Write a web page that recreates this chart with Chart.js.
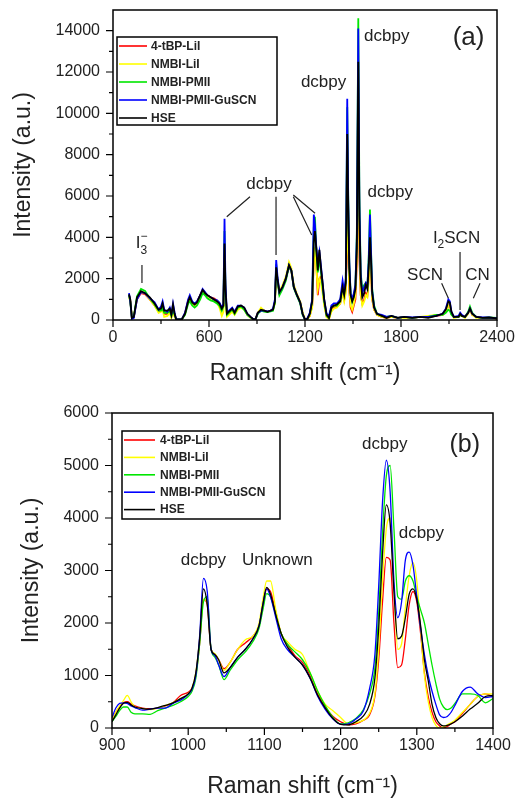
<!DOCTYPE html>
<html>
<head>
<meta charset="utf-8">
<script src="https://cdn.jsdelivr.net/npm/chart.js@4.4.1/dist/chart.umd.min.js"></script>
<style>
html, body { margin: 0; padding: 0; background: #fff; }
.panel { position: absolute; left: 0; width: 515px; }
#boxA { top: 0; height: 395px; }
#boxB { top: 400px; height: 398px; }
</style>
</head>
<body>
<div class="panel" id="boxA"><canvas id="chartA" width="515" height="395"></canvas></div>
<div class="panel" id="boxB"><canvas id="chartB" width="515" height="398"></canvas></div>
<script>
const seriesNames = ['4-tBP-LiI', 'NMBI-LiI', 'NMBI-PMII', 'NMBI-PMII-GuSCN', 'HSE'];
const seriesColors = ['#ff0000', '#ffff00', '#00e600', '#0000ff', '#000000'];

// panel (a): full spectrum
const shiftA = [
  100,108,118,130,150,175,200,230,260,285,
  300,310,320,340,355,365,375,385,395,430,
  450,470,480,495,510,525,545,560,575,590,
  610,630,650,665,680,690,697,703,712,725,
  745,760,780,800,820,840,860,875,890,905,
  925,945,965,985,1000,1012,1020,1028,1040,1060,
  1080,1100,1115,1130,1150,1170,1185,1200,1215,1230,
  1245,1255,1262,1270,1280,1290,1300,1310,1320,1335,
  1350,1365,1380,1400,1420,1435,1445,1455,1464,1470,
  1477,1485,1495,1505,1515,1524,1533,1540,1548,1558,
  1570,1580,1590,1598,1606,1613,1620,1632,1650,1680,
  1710,1740,1780,1820,1870,1920,1970,2020,2060,2080,
  2096,2105,2115,2130,2160,2170,2180,2200,2220,2231,
  2245,2270,2310,2350,2400
];
const tbpLiA = [
  1200,950,100,150,1000,1300,1250,1000,700,400,
  450,600,300,300,450,150,550,200,20,30,
  300,950,1100,850,750,850,1200,1450,1300,1200,
  1100,1050,950,800,500,650,3200,1300,250,350,
  500,300,600,650,550,250,120,50,20,350,
  450,450,400,450,500,850,2500,1900,1300,1600,
  2000,2600,2350,1600,1200,850,300,30,40,200,
  700,3000,3300,2800,1200,2000,2100,1500,800,150,
  50,500,600,650,800,1400,1000,1500,5000,3200,
  1400,600,400,700,1000,2800,8200,3000,1200,800,
  1000,1300,1200,2000,3000,2200,1000,500,250,150,
  100,150,100,150,100,150,150,200,250,400,
  700,700,300,150,150,250,200,150,350,500,
  250,150,100,100,80
];
const nmbiLiA = [
  1100,900,100,150,1050,1350,1300,1000,700,350,
  400,500,150,200,350,100,400,150,20,30,
  300,900,1050,800,700,800,1150,1400,1250,1150,
  1050,950,850,600,200,400,2200,800,150,250,
  400,250,500,600,500,250,100,50,20,350,
  600,450,400,450,500,800,2300,1800,1400,1700,
  2100,2800,2500,1700,1250,900,400,50,30,200,
  600,2800,3500,2600,1500,2000,1800,1300,700,150,
  50,400,550,600,800,1300,900,1300,6000,3500,
  1500,700,500,800,1200,3000,9200,3500,1300,700,
  900,1200,1100,1900,3300,2200,1000,500,250,150,
  100,150,100,100,100,150,200,250,250,400,
  700,650,300,100,150,250,200,100,300,500,
  250,100,100,100,80
];
const nmbiPmA = [
  1200,900,100,150,1150,1500,1400,1050,750,450,
  450,550,350,350,450,200,500,250,30,30,
  250,800,900,700,600,700,1000,1300,1200,1050,
  950,900,800,700,450,650,4300,1400,250,350,
  500,300,600,650,500,250,120,50,20,300,
  450,400,380,420,450,850,2700,1900,1200,1500,
  1900,2600,2350,1550,1150,800,250,20,50,300,
  950,4500,5000,3500,2300,3000,2300,1600,900,200,
  100,600,700,700,900,1600,1300,1900,10300,6000,
  2700,1300,900,1200,1600,4200,14600,6000,2300,1500,
  1700,1800,1600,3000,5350,3300,1500,700,300,200,
  150,200,100,150,100,150,150,250,250,350,
  500,450,250,150,150,250,200,150,400,650,
  350,150,100,120,100
];
const nmbiGuA = [
  1300,900,50,100,1000,1350,1300,1050,850,500,
  650,900,500,400,600,300,800,350,30,30,
  350,1000,1200,900,800,900,1200,1500,1350,1200,
  1100,1000,950,850,600,800,4900,1700,350,450,
  600,400,700,700,600,300,150,50,20,350,
  450,450,420,450,550,1000,2900,2100,1350,1600,
  2000,2650,2400,1600,1200,850,300,20,80,350,
  1000,5100,4600,3600,2800,3300,2600,1800,1000,300,
  200,700,800,800,1000,1900,1400,2000,10700,6000,
  2800,1300,1000,1300,1700,4000,14100,5500,2200,1300,
  1600,1800,1700,2800,5100,3200,1400,600,300,250,
  150,200,100,150,120,150,150,200,300,550,
  1000,900,400,150,200,350,250,150,350,550,
  300,150,120,120,80
];
const hseA = [
  1250,1000,100,150,1100,1400,1300,1100,800,500,
  550,800,450,450,550,250,750,300,30,30,
  300,900,1100,850,750,850,1200,1450,1300,1200,
  1100,1000,900,800,550,700,3700,1500,300,400,
  550,350,650,700,600,300,150,50,20,350,
  500,450,400,450,500,900,2550,2000,1350,1600,
  2000,2650,2400,1600,1200,850,300,20,50,300,
  900,3800,4300,3500,2400,3400,2500,1800,1000,250,
  100,600,700,750,900,1600,1200,1800,9000,5500,
  2500,1200,900,1100,1500,3500,12500,5000,2000,1100,
  1300,1700,1500,2500,4000,2800,1300,600,300,200,
  100,200,100,150,100,150,100,200,300,500,
  900,850,400,150,150,300,200,150,350,550,
  300,150,100,120,80
];

// panel (b): 900-1400 detail
const shiftB = [
  900,905,910,915,920,925,930,940,950,960,
  970,980,990,1000,1005,1010,1015,1020,1025,1030,
  1035,1040,1047,1055,1065,1075,1085,1093,1098,1103,
  1108,1115,1122,1130,1140,1150,1160,1170,1180,1190,
  1200,1210,1220,1230,1238,1245,1250,1255,1260,1265,
  1270,1275,1280,1285,1290,1295,1300,1305,1310,1315,
  1320,1325,1330,1335,1340,1345,1350,1360,1370,1380,
  1390,1400
];
const tbpLiB = [
  150,300,400,480,500,460,420,380,370,380,
  420,480,620,680,760,1000,1600,2450,2350,1500,
  1400,1300,1130,1250,1500,1620,1750,1950,2300,2650,
  2600,2200,1800,1600,1380,1250,1000,650,400,220,
  120,60,80,150,250,600,1300,2400,3250,3200,
  2000,1150,1200,1700,2350,2600,2400,1800,1050,600,
  300,120,40,0,30,80,120,280,450,600,
  650,600
];
const nmbiLiB = [
  140,300,420,520,620,500,400,370,350,380,
  430,480,560,650,760,1050,1700,2450,2400,1500,
  1420,1300,1100,1250,1500,1680,1750,2000,2450,2800,
  2800,2250,1800,1650,1500,1400,1050,700,450,330,
  200,80,100,150,280,650,1500,2800,3800,4000,
  2700,1500,1600,2300,2900,3150,2800,1900,1000,500,
  200,50,0,20,60,100,150,300,450,600,
  650,650
];
const nmbiPmB = [
  120,220,330,400,400,300,270,270,260,330,
  380,430,500,600,700,950,1600,2400,2500,1500,
  1350,1200,920,1100,1300,1450,1650,1900,2250,2560,
  2500,2150,1800,1600,1450,1300,1050,700,420,200,
  80,100,180,350,650,1150,2200,3700,4800,5000,
  3800,2500,2450,2800,2900,2800,2500,2250,2000,1600,
  1200,850,550,400,350,380,470,650,650,620,
  480,560
];
const nmbiGuB = [
  200,380,470,480,470,420,390,340,360,380,
  380,470,530,640,740,1000,1750,2850,2600,1500,
  1380,1200,980,1150,1350,1500,1700,1950,2350,2650,
  2500,2100,1700,1500,1350,1200,950,600,350,170,
  70,80,170,330,750,1400,2700,4300,5100,4500,
  2800,2100,2400,3200,3350,3100,2500,1900,1400,1000,
  700,450,250,200,220,300,430,700,780,650,
  580,600
];
const hseB = [
  120,250,380,470,490,440,400,370,360,390,
  430,480,560,650,760,1050,1700,2650,2350,1500,
  1400,1300,1050,1150,1350,1500,1700,1950,2350,2680,
  2550,2150,1800,1550,1350,1200,950,620,380,180,
  70,60,120,230,450,950,1900,3300,4250,3900,
  2600,1700,1750,2100,2550,2650,2450,1950,1300,900,
  450,200,80,40,50,80,120,230,360,470,
  600,620
];

// tick labels
const xTicksA = [0, 600, 1200, 1800, 2400];
const yTicksA = [0, 2000, 4000, 6000, 8000, 10000, 12000, 14000];
const xTicksB = [900, 1000, 1100, 1200, 1300, 1400];
const yTicksB = [0, 1000, 2000, 3000, 4000, 5000, 6000];

// annotation labels (data units) and leader lines
const notesA = [
  { parts: [{ t: '(a)' }], x: 2222, y: 13670, size: 26 },
  { parts: [{ t: 'dcbpy' }], x: 1711, y: 13750, size: 17 },
  { parts: [{ t: 'dcbpy' }], x: 1316, y: 11490, size: 17 },
  { parts: [{ t: 'dcbpy' }], x: 1733, y: 6170, size: 17 },
  { parts: [{ t: 'dcbpy' }], x: 975, y: 6557, size: 17 },
  { parts: [{ t: 'I' }, { t: '\u2212', small: true, dy: -6, stay: true }, { t: '3', small: true, dy: 8 }], x: 178, y: 3726, size: 17 },
  { parts: [{ t: 'I' }, { t: '2', small: true, dy: 6 }, { t: 'SCN' }], x: 2147, y: 3944, size: 17 },
  { parts: [{ t: 'SCN' }], x: 1950, y: 2178, size: 17 },
  { parts: [{ t: 'CN' }], x: 2278, y: 2178, size: 17 }
];
const leadersA = [
  [181, 2660, 181, 1790],
  [856, 5967, 711, 4999],
  [1019, 5967, 1019, 3145],
  [1127, 6049, 1263, 5163],
  [1127, 5967, 1242, 4113],
  [2054, 1776, 2096, 1050],
  [2169, 3290, 2169, 484],
  [2294, 1776, 2252, 1050]
];
const notesB = [
  { parts: [{ t: '(b)' }], x: 1363, y: 5395, size: 25 },
  { parts: [{ t: 'dcbpy' }], x: 1258, y: 5395, size: 17 },
  { parts: [{ t: 'dcbpy' }], x: 1306, y: 3710, size: 17 },
  { parts: [{ t: 'dcbpy' }], x: 1020, y: 3200, size: 17 },
  { parts: [{ t: 'Unknown' }], x: 1117, y: 3200, size: 17 }
];

const FAMILY = "'Liberation Sans', Arial, sans-serif";
const INK = '#222';

function drawRich(ctx, parts, cx, cy, size) {
  const fnt = s => s + 'px ' + FAMILY;
  const small = Math.round(size * 0.7);
  let w = 0;
  parts.forEach(p => {
    ctx.font = fnt(p.small ? small : size);
    if (!p.stay) w += ctx.measureText(p.t).width;
  });
  let x = cx - w / 2;
  ctx.textAlign = 'left';
  ctx.textBaseline = 'middle';
  parts.forEach(p => {
    ctx.font = fnt(p.small ? small : size);
    ctx.fillText(p.t, x, cy + (p.dy || 0));
    if (!p.stay) x += ctx.measureText(p.t).width;
  });
}

function midpoints(arr) {
  const out = [];
  for (let i = 0; i < arr.length - 1; i++) out.push((arr[i] + arr[i + 1]) / 2);
  return out;
}

// frame, minor/major ticks, annotations and boxed legend
const decor = {
  id: 'decor',
  afterDraw(chart, args, o) {
    const { ctx, chartArea: a } = chart;
    const sx = chart.scales.x, sy = chart.scales.y;
    ctx.save();
    ctx.strokeStyle = '#000';
    ctx.lineWidth = 1.5;
    ctx.strokeRect(a.left, a.top, a.right - a.left, a.bottom - a.top);

    ctx.lineWidth = 1.2;
    ctx.beginPath();
    o.xMajor.forEach(v => { const p = sx.getPixelForValue(v); ctx.moveTo(p, a.bottom); ctx.lineTo(p, a.bottom + 7); });
    midpoints(o.xMajor).forEach(v => { const p = sx.getPixelForValue(v); ctx.moveTo(p, a.bottom); ctx.lineTo(p, a.bottom + 4); });
    o.yMajor.forEach(v => { const p = sy.getPixelForValue(v); ctx.moveTo(a.left, p); ctx.lineTo(a.left - 7, p); });
    midpoints(o.yMajor).forEach(v => { const p = sy.getPixelForValue(v); ctx.moveTo(a.left, p); ctx.lineTo(a.left - 4, p); });
    ctx.stroke();

    ctx.strokeStyle = INK;
    ctx.lineWidth = 1.2;
    ctx.beginPath();
    (o.leaders || []).forEach(([x1, y1, x2, y2]) => {
      ctx.moveTo(sx.getPixelForValue(x1), sy.getPixelForValue(y1));
      ctx.lineTo(sx.getPixelForValue(x2), sy.getPixelForValue(y2));
    });
    ctx.stroke();

    ctx.fillStyle = INK;
    o.notes.forEach(n => drawRich(ctx, n.parts, sx.getPixelForValue(n.x), sy.getPixelForValue(n.y), n.size));

    // legend box
    const L = o.legend;
    const bx = a.left + L.dx, by = a.top + L.dy;
    ctx.fillStyle = '#fff';
    ctx.fillRect(bx, by, L.w, L.h);
    ctx.strokeStyle = '#000';
    ctx.lineWidth = 1.5;
    ctx.strokeRect(bx, by, L.w, L.h);
    ctx.font = 'bold 12px ' + FAMILY;
    ctx.textAlign = 'left';
    ctx.textBaseline = 'middle';
    chart.data.datasets.forEach((ds, i) => {
      const yy = by + L.first + i * L.step;
      ctx.strokeStyle = ds.borderColor;
      ctx.lineWidth = 1.6;
      ctx.beginPath();
      ctx.moveTo(bx + L.line0, yy);
      ctx.lineTo(bx + L.line1, yy);
      ctx.stroke();
      ctx.fillStyle = INK;
      ctx.fillText(ds.label, bx + L.text, yy + 0.5);
    });
    ctx.restore();
  }
};

function makeSets(xs, ys, width, smooth) {
  return ys.map((arr, i) => ({
    label: seriesNames[i],
    data: arr.map((v, j) => ({ x: xs[j], y: v })),
    borderColor: seriesColors[i],
    backgroundColor: seriesColors[i],
    borderWidth: width,
    pointRadius: 0,
    fill: false,
    cubicInterpolationMode: smooth ? 'monotone' : 'default',
    tension: 0,
    order: 4 - i
  }));
}

function buildChart(id, c) {
  const tickFont = { family: FAMILY, size: 16 };
  const titleFont = { family: FAMILY, size: 23, lineHeight: 1 };
  return new Chart(document.getElementById(id), {
    type: 'line',
    data: { datasets: c.sets },
    options: {
      responsive: false,
      animation: false,
      layout: { padding: c.pad },
      plugins: { legend: { display: false }, tooltip: { enabled: false }, decor: c.decor },
      scales: {
        x: {
          type: 'linear', min: c.xMin, max: c.xMax,
          afterBuildTicks: s => { s.ticks = c.xTicks.map(v => ({ value: v })); },
          afterFit: s => { s.height = c.xHeight; s.paddingLeft = 0; s.paddingRight = 0; },
          ticks: { callback: v => String(v), font: tickFont, color: INK, padding: 8, maxRotation: 0, minRotation: 0, autoSkip: false },
          grid: { display: false, drawTicks: false },
          border: { display: false },
          title: { display: true, text: 'Raman shift (cm\u207B\u00B9)', font: titleFont, color: INK, padding: { top: 0, bottom: c.xTitlePad } }
        },
        y: {
          type: 'linear', min: 0, max: c.yMax,
          afterBuildTicks: s => { s.ticks = c.yTicks.map(v => ({ value: v })); },
          afterFit: s => { s.width = c.yWidth; s.paddingTop = 0; s.paddingBottom = 0; },
          ticks: { callback: v => String(v), font: tickFont, color: INK, padding: 13, autoSkip: false },
          grid: { display: false, drawTicks: false },
          border: { display: false },
          title: { display: true, text: 'Intensity (a.u.)', font: titleFont, color: INK, padding: { top: c.yTitlePad, bottom: 0 } }
        }
      }
    },
    plugins: [decor]
  });
}

buildChart('chartA', {
  sets: makeSets(shiftA, [tbpLiA, nmbiLiA, nmbiPmA, nmbiGuA, hseA], 1.8, false),
  pad: { left: 0, top: 10, right: 18, bottom: 0 },
  xMin: 0, xMax: 2400, yMax: 15000,
  xTicks: xTicksA, yTicks: yTicksA,
  xHeight: 75, yWidth: 113, xTitlePad: 10, yTitlePad: 12,
  decor: {
    xMajor: xTicksA, yMajor: yTicksA,
    notes: notesA, leaders: leadersA,
    legend: { dx: 4, dy: 27, w: 160, h: 88, first: 9, step: 18, line0: 2, line1: 30, text: 34 }
  }
});

buildChart('chartB', {
  sets: makeSets(shiftB, [tbpLiB, nmbiLiB, nmbiPmB, nmbiGuB, hseB], 1.3, true),
  pad: { left: 0, top: 13, right: 22, bottom: 0 },
  xMin: 900, xMax: 1400, yMax: 6000,
  xTicks: xTicksB, yTicks: yTicksB,
  xHeight: 70, yWidth: 112, xTitlePad: 0, yTitlePad: 20,
  decor: {
    xMajor: xTicksB, yMajor: yTicksB,
    notes: notesB, leaders: [],
    legend: { dx: 10, dy: 18, w: 158, h: 88, first: 9, step: 17.4, line0: 2, line1: 33, text: 38 }
  }
});
</script>
</body>
</html>
